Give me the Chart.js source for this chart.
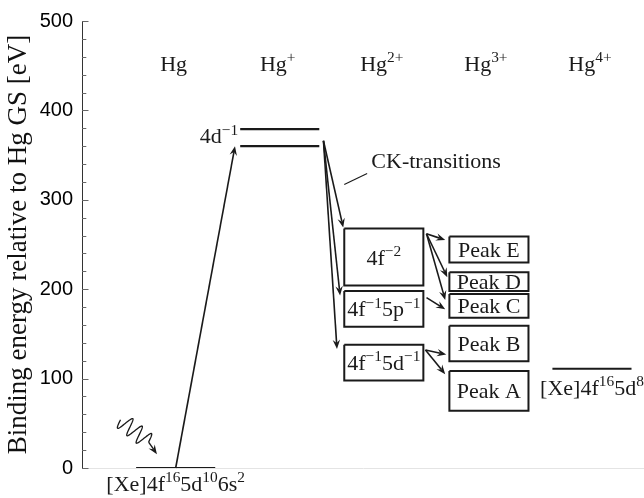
<!DOCTYPE html>
<html>
<head>
<meta charset="utf-8">
<script src="https://cdn.jsdelivr.net/npm/chart.js@4.4.1/dist/chart.umd.min.js"></script>
<style>
  html, body { margin: 0; padding: 0; background: #fff; }
  #wrap { width: 644px; height: 498px; }
</style>
</head>
<body>
<div id="wrap"><canvas id="levels"></canvas></div>
<script>
// charge states along the x axis
const stageX = [1, 2, 3, 4, 5];
const stageLabels = ['Hg', 'Hg^{+}', 'Hg^{2+}', 'Hg^{3+}', 'Hg^{4+}'];

// binding energies (eV, relative to the Hg ground state)
const groundEnergy = 0;
const holeEnergies = [379, 360];          // 4d3/2, 4d5/2 hole
const hg4Energy = 111;

// double-hole states after the CK transitions (Hg2+)
const finalLabels = ['4f^{−2}', '4f^{−1}5p^{−1}', '4f^{−1}5d^{−1}'];
const finalTop = [268, 198, 138];
const finalBottom = [204, 158, 98];

// Hg3+ peaks
const peakLabels = ['Peak E', 'Peak D', 'Peak C', 'Peak B', 'Peak A'];
const peakTop = [259, 219, 194.5, 159, 108.5];
const peakBottom = [230, 198, 168, 119.5, 64];

// arrows, [x, energy] -> [x, energy]
const ionArrow = [[1.0, 0], [1.57, 360]];
const ckFrom = [2.42, 366];
const ckTo = [[2.61, 269], [2.58, 193], [2.55, 133]];
const augerArrows = [
  [[3.41, 262], [3.59, 255]],
  [[3.41, 262], [3.61, 213.5]],
  [[3.41, 262], [3.59, 188]],
  [[3.41, 190.5], [3.59, 177.5]],
  [[3.40, 132], [3.60, 127]],
  [[3.40, 132], [3.59, 105]]
];
const photonWave = [[0.47, 54], [0.74, 29], [0.82, 15.5]];
const ckLeader = [[2.62, 317], [2.84, 329.5]];

const halfWidth = 0.38;
const ink = '#1a1a1a';
const serif = '"Liberation Serif", "Times New Roman", serif';

function level(cx, e) {
  return [{ x: cx - halfWidth, y: e }, { x: cx + halfWidth, y: e }];
}
function box(cx, top, bottom) {
  return [
    { x: cx - halfWidth, y: top }, { x: cx + halfWidth, y: top },
    { x: cx + halfWidth, y: bottom }, { x: cx - halfWidth, y: bottom },
    { x: cx - halfWidth, y: top }
  ];
}

const lineSet = (data, w) => ({
  data, showLine: true, pointRadius: 0, borderColor: ink, borderWidth: w,
  fill: false, tension: 0
});

const datasets = [
  lineSet(level(stageX[0], groundEnergy), 2.2),
  ...holeEnergies.map(e => lineSet(level(stageX[1], e), 2.2)),
  lineSet(level(stageX[4], hg4Energy), 2.2),
  ...finalTop.map((t, i) => lineSet(box(stageX[2], t, finalBottom[i]), 2)),
  ...peakTop.map((t, i) => lineSet(box(stageX[3] + 0.01, t, peakBottom[i]), 2))
];

// text with ^{...} superscripts
function richParts(s) {
  const out = [];
  const re = /\^\{([^}]*)\}/g;
  let last = 0, m;
  while ((m = re.exec(s))) {
    if (m.index > last) out.push([s.slice(last, m.index), false]);
    out.push([m[1], true]);
    last = re.lastIndex;
  }
  if (last < s.length) out.push([s.slice(last), false]);
  return out;
}
function drawRich(ctx, s, x, y, size, align) {
  const parts = richParts(s);
  const fontOf = p => `${p[1] ? size * 0.7 : size}px ${serif}`;
  let w = 0;
  parts.forEach(p => { ctx.font = fontOf(p); w += ctx.measureText(p[0]).width; });
  let cx = align === 'center' ? x - w / 2 : align === 'right' ? x - w : x;
  ctx.textAlign = 'left';
  ctx.textBaseline = 'alphabetic';
  parts.forEach(p => {
    ctx.font = fontOf(p);
    ctx.fillText(p[0], cx, p[1] ? y - size * 0.4 : y);
    cx += ctx.measureText(p[0]).width;
  });
}

function arrow(ctx, x1, y1, x2, y2) {
  const head = 10, a = Math.atan2(y2 - y1, x2 - x1);
  ctx.beginPath();
  ctx.moveTo(x1, y1);
  ctx.lineTo(x2 - Math.cos(a) * head * 0.6, y2 - Math.sin(a) * head * 0.6);
  ctx.stroke();
  ctx.beginPath();
  ctx.moveTo(x2, y2);
  ctx.lineTo(x2 - head * Math.cos(a - 0.38), y2 - head * Math.sin(a - 0.38));
  ctx.lineTo(x2 - head * 0.6 * Math.cos(a), y2 - head * 0.6 * Math.sin(a));
  ctx.lineTo(x2 - head * Math.cos(a + 0.38), y2 - head * Math.sin(a + 0.38));
  ctx.closePath();
  ctx.fill();
}

const diagramPlugin = {
  id: 'diagram',
  afterDraw(chart) {
    const { ctx, scales: { x, y } } = chart;
    const px = v => x.getPixelForValue(v);
    const py = v => y.getPixelForValue(v);
    const pt = p => [px(p[0]), py(p[1])];

    ctx.save();
    // inward y ticks
    ctx.strokeStyle = '#666';
    ctx.lineWidth = 1;
    for (let v = 0; v <= 500; v += 20) {
      const yy = Math.round(py(v)) + 0.5;
      ctx.beginPath();
      ctx.moveTo(y.right, yy);
      ctx.lineTo(y.right + (v % 100 === 0 ? 6.5 : 4.3), yy);
      ctx.stroke();
    }

    ctx.fillStyle = ink;
    ctx.strokeStyle = ink;
    ctx.lineWidth = 1.6;
    ctx.lineJoin = 'round';

    arrow(ctx, ...pt(ionArrow[0]), ...pt(ionArrow[1]));
    ckTo.forEach(t => arrow(ctx, ...pt(ckFrom), ...pt(t)));
    augerArrows.forEach(a => arrow(ctx, ...pt(a[0]), ...pt(a[1])));

    // CK leader
    ctx.lineWidth = 1.1;
    ctx.beginPath();
    ctx.moveTo(...pt(ckLeader[0]));
    ctx.lineTo(...pt(ckLeader[1]));
    ctx.stroke();

    // incoming photon
    const [sx, sy] = pt(photonWave[0]);
    const [ex, ey] = pt(photonWave[1]);
    const len = Math.hypot(ex - sx, ey - sy);
    const ux = (ex - sx) / len, uy = (ey - sy) / len;
    ctx.lineWidth = 1.3;
    ctx.beginPath();
    for (let i = 0; i <= 120; i++) {
      const t = i / 120;
      const off = 8.5 * Math.sin(2 * Math.PI * 3 * t);
      const wx = sx + ux * len * t - uy * off;
      const wy = sy + uy * len * t + ux * off;
      if (i === 0) ctx.moveTo(wx, wy); else ctx.lineTo(wx, wy);
    }
    ctx.stroke();
    ctx.lineWidth = 1.4;
    arrow(ctx, ex, ey, ...pt(photonWave[2]));

    // labels
    stageLabels.forEach((s, i) => drawRich(ctx, s, px(stageX[i]) - 2, py(444), 22, 'center'));
    drawRich(ctx, '4d^{−1}', px(1.6), py(363), 22, 'right');
    drawRich(ctx, 'CK-transitions', px(2.88), py(336), 22, 'left');
    finalLabels.forEach((s, i) => {
      const mid = (py(finalTop[i]) + py(finalBottom[i])) / 2;
      drawRich(ctx, s, px(stageX[2]), mid + 7.5, 22, 'center');
    });
    peakLabels.forEach((s, i) => {
      const mid = (py(peakTop[i]) + py(peakBottom[i])) / 2;
      drawRich(ctx, s, px(stageX[3] + 0.01), mid + 7.5, 22, 'center');
    });
    drawRich(ctx, '[Xe]4f^{16}5d^{10}6s^{2}', px(stageX[0]), py(-25.5), 22, 'center');
    drawRich(ctx, '[Xe]4f^{16}5d^{8}', px(stageX[4]), py(82), 22, 'center');
    ctx.restore();
  }
};

new Chart(document.getElementById('levels'), {
  type: 'scatter',
  data: { datasets },
  options: {
    responsive: true,
    maintainAspectRatio: false,
    animation: false,
    layout: { padding: { top: 12, right: 0, bottom: 30, left: 0 } },
    plugins: { legend: { display: false }, tooltip: { enabled: false } },
    scales: {
      x: {
        type: 'linear', min: 0.1, max: 5.5,
        ticks: { display: false },
        grid: { display: false, drawTicks: false },
        border: { color: '#e4e4e4', width: 1 }
      },
      y: {
        min: 0, max: 500,
        afterFit(s) { s.width = 82; },
        ticks: {
          stepSize: 100, padding: 9, color: '#000',
          font: { family: '"Liberation Sans", Arial, sans-serif', size: 20 }
        },
        grid: { display: false, drawTicks: false },
        border: { color: '#333', width: 1 },
        title: {
          display: true,
          text: 'Binding energy relative to Hg GS [eV]',
          color: '#111',
          font: { family: serif, size: 27 },
          padding: { top: 3, bottom: 0 }
        }
      }
    }
  },
  plugins: [diagramPlugin]
});
</script>
</body>
</html>
